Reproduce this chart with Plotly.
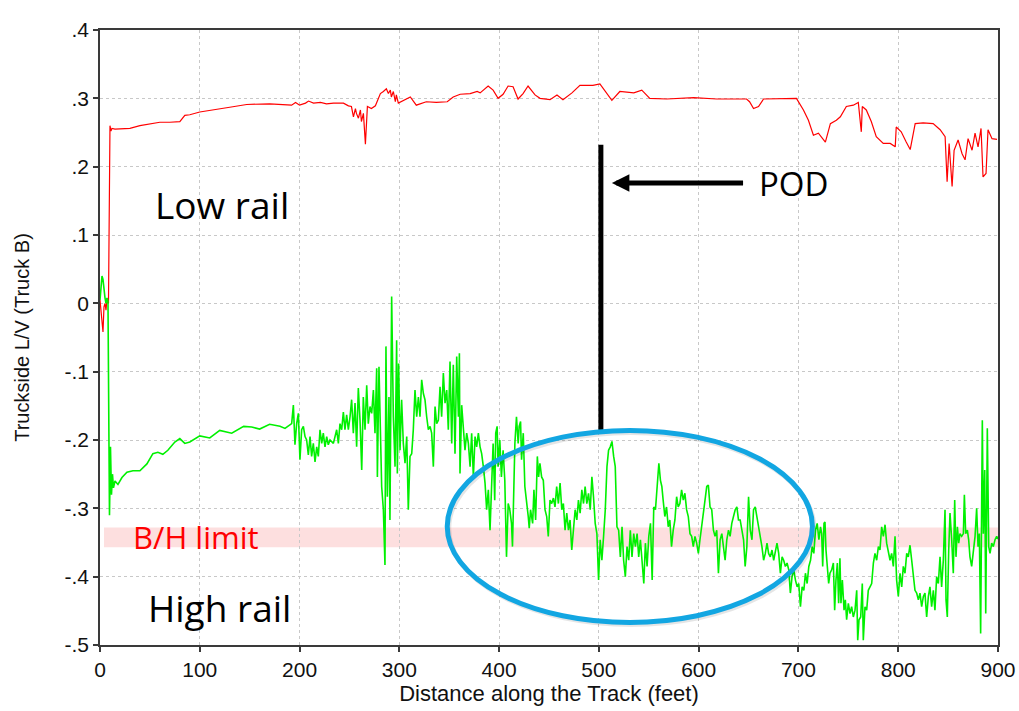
import plotly.graph_objects as go

# ---------------- data ----------------
red_x = [0, 1, 2, 3, 4, 5, 6, 7, 8.5, 9.5, 10, 11, 12, 15, 20, 30, 40, 50, 60, 70, 80, 85, 90, 100,
         115, 124, 130, 147, 170, 192, 196, 200, 206, 209, 214, 221, 227, 234, 244, 249, 252, 254,
         256, 257, 259, 261, 262, 264, 266, 268, 272, 276, 281, 284, 287, 289, 291, 292, 294, 296,
         297, 299, 302, 311, 317, 327, 337, 348, 354, 361, 371, 378, 381, 389, 394, 399, 404, 409,
         414, 419, 424, 429, 436, 441, 451, 458, 464, 473, 481, 494, 501, 508, 513, 521, 535, 543,
         551, 568, 595, 618, 648, 651, 655, 660, 665, 698, 705, 710, 715, 720, 727, 732, 738, 742,
         748, 755, 760, 763, 764, 768, 773, 778, 785, 792, 797, 798, 803, 808, 812, 817, 825, 835,
         842, 847, 849, 851, 854, 856, 860, 864, 867, 870, 874, 877, 880, 883, 885, 888, 890, 894,
         899]
red_y = [0.005, -0.01, -0.02, -0.042, -0.005, 0.0, -0.01, 0.005, 0.0, 0.2, 0.26, 0.252, 0.256, 0.255,
         0.255, 0.256, 0.26, 0.263, 0.265, 0.265, 0.266, 0.275, 0.276, 0.280,
         0.283, 0.285, 0.287, 0.291, 0.292, 0.290, 0.294, 0.290, 0.293, 0.296, 0.293, 0.294, 0.292,
         0.293, 0.293, 0.289, 0.288, 0.273,
         0.285, 0.278, 0.271, 0.283, 0.266, 0.278, 0.233, 0.288, 0.285, 0.289, 0.307, 0.310, 0.314,
         0.307, 0.312, 0.302, 0.310, 0.295,
         0.305, 0.293, 0.295, 0.302, 0.290, 0.295, 0.294, 0.295, 0.302, 0.306, 0.307, 0.310, 0.308,
         0.318, 0.312, 0.300, 0.306, 0.318,
         0.317, 0.299, 0.307, 0.318, 0.305, 0.300, 0.298, 0.305, 0.298, 0.308, 0.319, 0.319, 0.321,
         0.307, 0.297, 0.310, 0.308, 0.312,
         0.300, 0.299, 0.301, 0.299, 0.299, 0.295, 0.285, 0.288, 0.299, 0.300, 0.283, 0.268, 0.246,
         0.249, 0.236, 0.263, 0.268, 0.273,
         0.288, 0.290, 0.294, 0.251, 0.288, 0.283, 0.266, 0.244, 0.234, 0.234, 0.229, 0.258, 0.251,
         0.236, 0.225, 0.263, 0.264, 0.263,
         0.254, 0.244, 0.178, 0.234, 0.171, 0.224, 0.239, 0.219, 0.210, 0.241, 0.224, 0.249, 0.229,
         0.256, 0.185, 0.190, 0.254, 0.241,
         0.240]

green_x = [0, 1, 2, 3, 4, 5, 6, 7, 8, 9.5, 10.5, 11.5, 12.5, 13.5, 15, 18, 22, 27, 33, 40, 47, 53,
           58, 63, 68, 75, 80, 85, 90, 100, 110, 120, 132, 144, 152, 160, 170, 180.4, 185.4, 190.4,
           192.1, 193.8, 194.4, 195.4, 197.1, 198.8, 200.4, 202.1, 203.8, 205.5, 207.1, 208.8, 210.5,
           212.1, 213.8, 215.5, 217.2, 218.8, 220.5, 222.2, 223.8, 225.5, 227.2, 228.8, 230.5, 233.9,
           237.2, 238.9, 240.5, 242.2, 243.9, 245.5, 247.2, 248.9, 250.6, 252.2, 253.9, 255.6, 257.2,
           258.9, 260.6, 262.3, 263.9, 265.6, 267.3, 268.9, 270.6, 272.3, 274.0, 275.6, 277.3, 278.0,
           279.6, 280.6, 282.3, 284.0, 285.6, 286.6, 288.0, 289.6, 290.6, 292.3, 294.0, 295.7, 297.3,
           298.0, 299.3, 300.7, 302.3, 304.0, 305.7, 307.4, 309.0, 310.7, 312.4, 314.0, 315.7, 317.4,
           319.1, 320.7, 322.4, 324.1, 325.7, 327.4, 329.1, 330.8, 332.4, 334.1, 335.8, 337.4, 339.1,
           340.8, 342.4, 344.1, 345.8, 347.5, 349.1, 350.8, 352.5, 354.1, 355.8, 357.5, 359.2, 360.2,
           360.8, 362.5, 364.2, 365.8, 367.5, 369.2, 370.9, 372.5, 374.2, 375.9, 377.5, 379.2, 380.9,
           382.5, 384.2, 385.9, 387.5, 389.2, 390.9,
           392.3, 394.0, 395.6, 396.6, 398.0, 399.0, 400.7, 402.3, 404.0, 405.7, 407.4, 409.1, 410.7,
           412.4, 413.4, 414.8, 415.8, 417.4, 419.1, 420.1, 421.5, 422.5, 424.2, 425.8, 427.5, 429.2,
           430.2, 431.5, 433.6, 434.9, 436.6, 438.3, 439.6, 440.9, 442.6, 444.3, 446.0, 447.7, 449.3,
           451.0, 452.7, 454.4, 456.0, 457.7, 459.4, 461.1, 462.8, 464.4, 466.1, 467.8, 469.5, 471.1,
           472.8, 474.5, 476.2, 477.9, 479.5, 481.2, 482.9, 484.6, 486.2, 487.9, 489.6, 491.3, 493.0,
           494.6, 496.3, 498.0, 499.7, 501.3, 503.0, 504.7, 506.4, 508.1, 509.7, 511.4, 513.1, 514.8,
           516.4, 518.1, 519.8, 521.5, 523.2, 524.8, 526.5, 528.2, 529.9, 531.5, 533.2, 534.9, 536.6,
           538.3, 539.9, 541.6, 543.3, 545.0, 546.6, 548.3, 550.0, 551.7, 553.4, 555.0, 556.7, 558.4,
           560.1,
           561.7, 563.1, 564.4, 566.1, 567.8, 569.5, 571.1, 572.8, 574.5, 576.2, 577.9, 579.5, 581.2,
           582.9, 584.6, 586.2, 587.9, 589.6, 591.3, 593.0, 594.6, 596.3, 598.0, 599.7, 601.3, 603.0,
           604.7, 606.4, 608.1, 609.7, 611.4, 613.1, 614.8, 616.4, 618.1, 619.8, 621.5, 623.2, 624.8,
           626.5, 628.2, 629.9, 631.5, 633.2, 634.9, 636.6, 638.3, 639.9, 641.6, 643.3, 645.0, 646.6,
           648.3, 650.0, 651.7, 653.4, 655.0, 656.7, 658.4, 660.1, 661.7, 663.4, 665.1, 666.8, 668.5,
           670.1, 671.8, 673.5, 675.2, 676.8, 678.5, 680.2, 681.9, 683.6, 685.2, 686.9, 688.6, 690.3,
           691.9, 693.6, 695.3, 697.0, 698.7, 700.3, 702.0, 703.7, 705.4, 707.0, 708.7, 710.4, 712.1,
           713.8, 715.4, 717.1, 718.8, 720.5, 722.1,
           723.3, 724.3, 725.6, 726.6, 727.6, 729.0, 730.3, 731.6, 733.3, 735.0, 736.3, 737.6, 739.0,
           740.3, 741.6, 742.6, 744.0, 745.7, 747.0, 748.3, 750.0, 751.7, 753.3, 755.0, 756.7, 758.4,
           759.4, 760.7, 762.4, 764.0, 765.0, 766.7, 768.4, 770.0, 771.7, 773.4, 775.1, 776.7, 778.4,
           780.1, 781.7, 783.4, 785.1, 786.8, 788.4, 790.1, 791.8, 793.4, 795.1, 796.8, 798.4, 800.1,
           801.8, 803.5, 805.1, 806.8, 808.5, 810.1, 811.8, 813.5, 815.1, 816.8, 818.5, 820.2, 821.8,
           823.5, 825.2, 826.8, 828.5, 830.2, 831.8, 833.5, 835.2, 836.8, 838.5, 840.2, 841.9, 843.5,
           845.2, 846.9, 847.9, 849.2, 850.6, 851.9, 853.6, 855.2, 856.6, 857.9, 859.3, 860.6, 861.9,
           863.6, 865.3, 866.3, 867.6, 869.3, 870.6, 871.9, 873.6, 875.3, 877.0, 878.6, 880.0, 881.3,
           882.6, 884.3, 885.3, 886.7, 887.7, 889.3, 890.7, 892.0, 893.7, 895.3, 897.0, 898.7, 900]
green_y = [0.005, 0.02, 0.04, 0.035, 0.015, 0.008, 0.0, 0.008, 0.003, -0.31, -0.21, -0.28, -0.25, -0.27,
           -0.26, -0.265, -0.255, -0.247, -0.245, -0.245, -0.235, -0.22,
           -0.218, -0.221, -0.215, -0.203, -0.198, -0.205, -0.203, -0.194, -0.197, -0.186, -0.19,
           -0.18, -0.181, -0.184, -0.177, -0.180, -0.183, -0.178,
           -0.176, -0.149, -0.185, -0.207, -0.176, -0.161, -0.229, -0.185, -0.180, -0.195, -0.200,
           -0.222, -0.195,
           -0.224, -0.205, -0.232, -0.210, -0.224, -0.185, -0.205, -0.190, -0.210, -0.195, -0.207,
           -0.200, -0.205,
           -0.185, -0.205, -0.176, -0.185, -0.159, -0.185, -0.163, -0.185, -0.166, -0.141, -0.190,
           -0.146, -0.210,
           -0.124, -0.171, -0.244, -0.137, -0.185, -0.120, -0.176, -0.151, -0.161, -0.127, -0.190,
           -0.095, -0.254,
           -0.093, -0.166, -0.268, -0.302, -0.383, -0.063, -0.283, -0.137, -0.317, 0.010, -0.166,
           -0.239, -0.054,
           -0.249, -0.088, -0.215, -0.141, -0.205, -0.234, -0.195, -0.302, -0.224, -0.220, -0.185,
           -0.127, -0.166,
           -0.137, -0.166, -0.112, -0.132, -0.141, -0.166, -0.185, -0.180, -0.190, -0.239, -0.151,
           -0.176, -0.171,
           -0.122, -0.166, -0.102, -0.146, -0.127, -0.185, -0.085, -0.205, -0.090, -0.220, -0.078,
           -0.166, -0.073,
           -0.249, -0.149, -0.185, -0.215, -0.190, -0.205, -0.239, -0.190, -0.254, -0.195, -0.210,
           -0.190, -0.210,
           -0.220, -0.239, -0.263, -0.302, -0.273, -0.332,
           -0.263, -0.205, -0.288, -0.190, -0.180, -0.239, -0.200, -0.254, -0.215, -0.259, -0.371,
           -0.293, -0.302,
           -0.322, -0.356, -0.263, -0.205, -0.166, -0.205, -0.180, -0.173, -0.229, -0.190, -0.268,
           -0.288, -0.312,
           -0.329, -0.302, -0.322, -0.273, -0.317, -0.224, -0.254, -0.234, -0.254, -0.259, -0.302,
           -0.312, -0.341,
           -0.288, -0.293, -0.285, -0.298, -0.268, -0.293, -0.263, -0.302, -0.293, -0.332, -0.307,
           -0.332, -0.317,
           -0.361, -0.327, -0.302, -0.317, -0.288, -0.307, -0.273, -0.293, -0.268, -0.293, -0.278,
           -0.302, -0.254,
           -0.283, -0.322, -0.337, -0.405, -0.346, -0.376, -0.341, -0.302, -0.239, -0.215, -0.210,
           -0.202, -0.224,
           -0.239, -0.327, -0.332, -0.371, -0.327, -0.376, -0.400, -0.356, -0.376, -0.332, -0.371,
           -0.337, -0.356,
           -0.337, -0.371, -0.346, -0.376, -0.410, -0.351, -0.385, -0.341, -0.322, -0.405, -0.298,
           -0.302, -0.263,
           -0.234,
           -0.259, -0.268, -0.288, -0.312, -0.298, -0.327, -0.317, -0.356, -0.332, -0.317, -0.283,
           -0.298, -0.293,
           -0.273, -0.288, -0.278, -0.302, -0.312, -0.337, -0.341, -0.356, -0.341, -0.351, -0.366,
           -0.346, -0.327,
           -0.302, -0.288, -0.268, -0.266, -0.298, -0.302, -0.332, -0.341, -0.332, -0.395, -0.346,
           -0.337, -0.356,
           -0.376, -0.346, -0.332, -0.341, -0.322, -0.312, -0.302, -0.298, -0.317, -0.317, -0.332,
           -0.346, -0.385,
           -0.356, -0.283, -0.332, -0.346, -0.302, -0.298, -0.312, -0.327, -0.337, -0.356, -0.376,
           -0.366, -0.351,
           -0.366, -0.371, -0.361, -0.376, -0.366, -0.351, -0.366, -0.395, -0.371, -0.376, -0.385,
           -0.380, -0.390,
           -0.424, -0.400, -0.390, -0.405, -0.415, -0.410, -0.444, -0.415, -0.420, -0.395, -0.410,
           -0.385, -0.376,
           -0.356, -0.366, -0.332, -0.322, -0.346, -0.327,
           -0.337, -0.385, -0.322, -0.320, -0.361, -0.390, -0.410, -0.395, -0.390, -0.380, -0.449,
           -0.405, -0.380,
           -0.439, -0.373, -0.439, -0.405, -0.449, -0.434, -0.463, -0.439, -0.454, -0.444, -0.459,
           -0.449, -0.420,
           -0.493, -0.463, -0.459, -0.410, -0.493, -0.444, -0.449, -0.420, -0.415, -0.410, -0.380,
           -0.366, -0.376,
           -0.356, -0.361, -0.327, -0.341, -0.324, -0.351, -0.366, -0.376, -0.366, -0.385, -0.341,
           -0.405, -0.429,
           -0.395, -0.415, -0.385, -0.395, -0.366, -0.371, -0.354, -0.376, -0.400, -0.420, -0.424,
           -0.434, -0.424,
           -0.444, -0.429, -0.424, -0.459, -0.429, -0.415, -0.444, -0.420, -0.449, -0.400, -0.410,
           -0.371, -0.415,
           -0.376, -0.302, -0.434, -0.459, -0.361, -0.307, -0.346, -0.395, -0.288, -0.371, -0.327,
           -0.351, -0.337,
           -0.341, -0.337, -0.280, -0.337, -0.332, -0.346, -0.371, -0.385, -0.366, -0.341, -0.300,
           -0.356, -0.337,
           -0.483, -0.171, -0.337, -0.244, -0.454, -0.183, -0.356, -0.366, -0.351, -0.356, -0.346,
           -0.341, -0.345]

y_tickvals = [-0.5, -0.4, -0.3, -0.2, -0.1, 0.0, 0.1, 0.2, 0.3, 0.4]
y_ticktext = ["-.5", "-.4", "-.3", "-.2", "-.1", "0", ".1", ".2", ".3", ".4"]
x_tickvals = [0, 100, 200, 300, 400, 500, 600, 700, 800, 900]

bh_limit = [-0.357, -0.328]
pod_x = 502
pod_line_y = [-0.189, 0.232]
ellipse_x = [348, 714]
ellipse_y = [-0.467, -0.186]

ANNOT_FONT = "Open Sans"
AXIS_FONT = "Liberation Sans, Arial, sans-serif"

fig = go.Figure()
fig.add_trace(go.Scatter(x=red_x, y=red_y, mode="lines",
                         line=dict(color="#ff0000", width=1.2), hoverinfo="skip"))
fig.add_trace(go.Scatter(x=green_x, y=green_y, mode="lines",
                         line=dict(color="#00f000", width=1.6), hoverinfo="skip"))

# B/H limit band
fig.add_shape(type="rect", xref="x", yref="y", x0=4, x1=900, y0=bh_limit[0], y1=bh_limit[1],
              fillcolor="rgba(250,170,170,0.38)", line=dict(width=0), layer="below")
# POD vertical line
fig.add_shape(type="line", xref="x", yref="y", x0=pod_x, x1=pod_x, y0=pod_line_y[0],
              y1=pod_line_y[1], line=dict(color="black", width=5))
# ellipse shadow + ellipse
fig.add_shape(type="circle", xref="x", yref="y", x0=ellipse_x[0] + 1.5, x1=ellipse_x[1] + 1.5,
              y0=ellipse_y[0] - 0.003, y1=ellipse_y[1] - 0.003,
              line=dict(color="rgba(0,0,0,0.10)", width=5))
fig.add_shape(type="circle", xref="x", yref="y", x0=ellipse_x[0], x1=ellipse_x[1],
              y0=ellipse_y[0], y1=ellipse_y[1], line=dict(color="#12a6e2", width=5))

# arrow
fig.add_annotation(x=513, y=0.176, ax=646, ay=0.176, xref="x", yref="y", axref="x", ayref="y",
                   text="", showarrow=True, arrowhead=2, arrowsize=0.7, arrowwidth=5,
                   arrowcolor="black")

fig.add_annotation(x=695, y=0.176, text="POD", showarrow=False, xanchor="center", yanchor="middle",
                   font=dict(family=ANNOT_FONT, size=33, color="black"))
fig.add_annotation(x=122, y=0.144, text="Low rail", showarrow=False, xanchor="center",
                   yanchor="middle", font=dict(family=ANNOT_FONT, size=37, color="black"))
fig.add_annotation(x=120, y=-0.445, text="High rail", showarrow=False, xanchor="center",
                   yanchor="middle", font=dict(family=ANNOT_FONT, size=37, color="black"))
fig.add_annotation(x=96, y=-0.342, text="B/H limit", showarrow=False, xanchor="center",
                   yanchor="middle", font=dict(family=ANNOT_FONT, size=31, color="#ff0000"))

axis_common = dict(showline=True, linecolor="#3a3a3a", linewidth=1.5, mirror=True,
                   ticks="outside", ticklen=5, tickcolor="#3a3a3a", tickwidth=1.5,
                   showgrid=True, gridcolor="#c8c8c8", griddash="dot", gridwidth=1,
                   zeroline=False, automargin=False,
                   tickfont=dict(family=AXIS_FONT, size=21, color="#111111"))

fig.update_xaxes(range=[0, 900], tickvals=x_tickvals, **axis_common,
                 title=dict(text="Distance along the Track (feet)",
                            font=dict(family=AXIS_FONT, size=22, color="#111111"), standoff=4))
fig.update_yaxes(range=[-0.5, 0.4], tickvals=y_tickvals, ticktext=y_ticktext, **axis_common,
                 title=dict(text="Truckside L/V (Truck B)",
                            font=dict(family=AXIS_FONT, size=20, color="#111111"), standoff=30))

fig.update_layout(width=1019, height=711, margin=dict(l=100, r=21, t=30, b=66),
                  paper_bgcolor="white", plot_bgcolor="white", showlegend=False)

fig.write_html("out.html")
